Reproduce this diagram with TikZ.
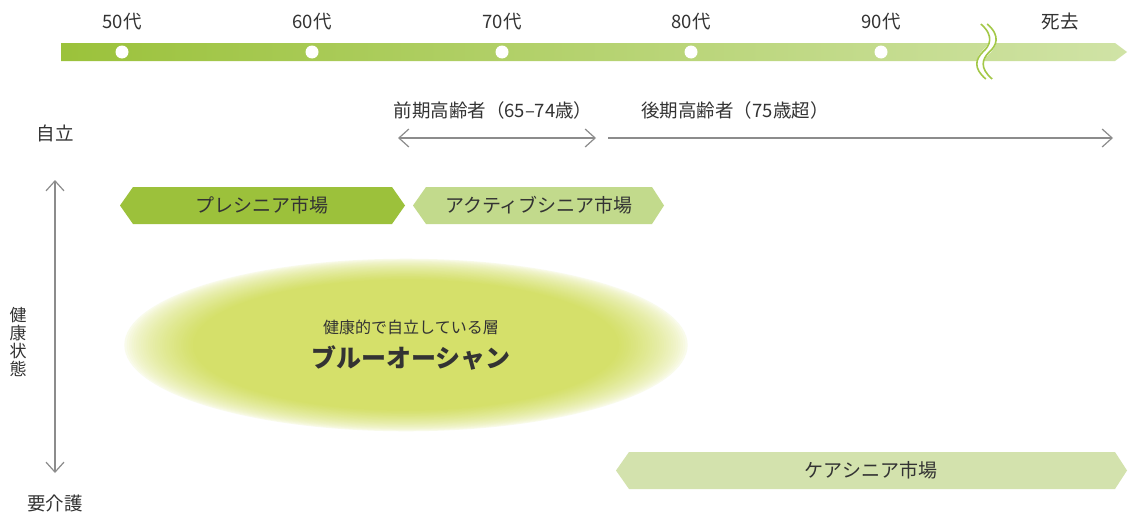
\documentclass[tikz,border=0pt]{standalone}
\usepackage{fontspec}
\setmainfont{Noto Sans CJK JP}
\usetikzlibrary{arrows.meta}
\definecolor{barL}{HTML}{9BC23B}
\definecolor{barR}{HTML}{D0E3A6}
\definecolor{hexA}{HTML}{9CC13B}
\definecolor{hexB}{HTML}{C2DA8C}
\definecolor{hexC}{HTML}{D3E2AD}
\definecolor{ell}{HTML}{D5E06A}
\definecolor{wavec}{HTML}{A3C847}
\definecolor{arr}{HTML}{8C8C8C}
\definecolor{txt}{HTML}{333333}
\begin{document}
\begin{tikzpicture}[x=1pt,y=-1pt,
 lbl/.style={text=txt, font=\fontsize{18.5}{20}\selectfont, inner sep=0},
 hextxt/.style={text=txt, font=\fontsize{19}{21}\selectfont, inner sep=0},
 dot/.style={circle, fill=white, minimum size=13pt, inner sep=0},
 garrow/.style={draw=arr, line width=1.2pt},
 waveline/.style={draw=wavec, line width=1.6pt},
 >={Straight Barb[length=10pt,width=18pt]}]
\useasboundingbox[fill=white] (0,0) rectangle (1129,514);

% timeline bar
\shade[left color=barL, right color=barR]
  (61,43) -- (1115,43) -- (1127,52) -- (1115,61) -- (61,61) -- cycle;
% break
\draw[white, line width=7pt] (984,24) .. controls (998,36) and (993,46) .. (986,52) .. controls (979,59) and (976,68) .. (989,79);
\foreach \dx in {-3.2,3.2}
  \draw[waveline, xshift=\dx pt] (984,24) .. controls (998,36) and (993,46) .. (986,52) .. controls (979,59) and (976,68) .. (989,79);

% dots and decade labels
\foreach \n/\x in {50/122,60/312,70/502,80/691,90/881}{
  \node[dot] (d\n) at (\x,52) {};
  \node[lbl] (l\n) at (\x,22) {\n 代};
}
\node[lbl] (death) at (1060,22) {死去};

% age group arrows
\node[lbl] (early) at (493,110) {前期高齢者（65–74歳）};
\node[lbl] (late) at (735,110) {後期高齢者（75歳超）};
\coordinate (e1) at (398,138);
\coordinate (e2) at (596,138);
\coordinate (f1) at (608,138);
\coordinate (f2) at (1113,138);
\draw[garrow,<->] (e1) -- (e2);
\draw[garrow,->] (f1) -- (f2);

% vertical axis
\node[lbl] (indep) at (55,133) {自立};
\node[lbl] (care) at (55,503) {要介護};
\coordinate (v1) at (55,180);
\coordinate (v2) at (55,473);
\draw[garrow,<->] (v1) -- (v2);
\node[text=txt, font=\fontsize{17}{18}\selectfont, inner sep=0, align=center] (health) at (18,342) {健\\康\\状\\態};

% hexagon banners
\fill[hexA] (120,205.5) -- (133,187) -- (392,187) -- (405,205.5) -- (392,224) -- (133,224) -- cycle;
\node[hextxt] (pre) at (262,205.5) {プレシニア市場};
\fill[hexB] (413,205.5) -- (426,187) -- (652,187) -- (664,205.5) -- (652,224) -- (426,224) -- cycle;
\node[hextxt] (active) at (539,205.5) {アクティブシニア市場};
\fill[hexC] (616,470.5) -- (629,452) -- (1115,452) -- (1127,470.5) -- (1115,489) -- (629,489) -- cycle;
\node[hextxt] (carem) at (871,470.5) {ケアシニア市場};

% blue ocean blob
\foreach \i in {0,...,30}{
  \pgfmathsetmacro\r{1-0.25*\i/30}
  \pgfmathsetmacro\p{100*(\i/30)^0.6}
  \pgfmathsetmacro\rx{284*\r}
  \pgfmathsetmacro\ry{87*\r}
  \fill[ell!\p!white] (406,345) ellipse [x radius=\rx pt, y radius=\ry pt];
}
\node[text=txt, font=\fontsize{16}{18}\selectfont, inner sep=0] (sub) at (411,327) {健康的で自立している層};
\node[text=txt, font=\fontsize{25}{28}\selectfont\bfseries, inner sep=0] (blue) at (411,358) {ブルーオーシャン};
\end{tikzpicture}
\end{document}
